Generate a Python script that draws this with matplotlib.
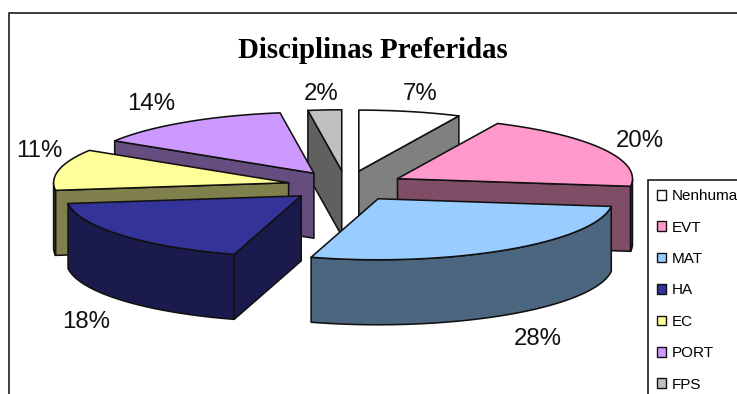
"""Disciplinas Preferidas: exploded 3D style pie drawn on a pixel canvas."""

import numpy as np
import matplotlib
matplotlib.use("Agg")
import matplotlib.pyplot as plt
from matplotlib.patches import Patch, Polygon, Rectangle

# Data
categories = ["Nenhuma", "EVT", "MAT", "HA", "EC", "PORT", "FPS"]
shares = [7.0, 20.0, 27.6, 18.4, 10.9, 13.8, 2.3]
top_colors = ["#FFFFFF", "#FF99CC", "#99CCFF", "#333399", "#FFFF99", "#CC99FF", "#C0C0C0"]
side_colors = ["#808080", "#804D66", "#4D6680", "#1A1A4D", "#80804D", "#664D80", "#606060"]

# Pie geometry, in pixels
CX, CY = 346, 186
RX, RY = 235, 61
DEPTH = 65
EXPLODE = 0.25

# label offsets from the outer edge of each slice
label_dx = [10, 36, 31, -36, -20, -34, -4]
label_dy = [-18, -8, 24, 22, -19, -18, -16]

LINE = "#111111"
LW = 1.15


def rim(apex, angles):
  """Points on the slice's outer edge, angles clockwise from 12 o'clock."""
  return np.column_stack([apex[0] + RX * np.sin(angles), apex[1] - RY * np.cos(angles)])


def extrude(ax, points, color, zorder):
  """Draw the wall hanging below a run of top-face points."""
  lower = points[::-1] + [0, DEPTH]
  ax.add_patch(Polygon(np.vstack([points, lower]), closed=True, facecolor=color,
                       edgecolor=LINE, linewidth=LW, joinstyle="round", zorder=zorder))


def draw_slice(ax, start, end, top, side, zorder):
  """Draw one exploded slice: visible walls first, then its top face."""
  mid = (start + end) / 2
  apex = np.array([CX + EXPLODE * RX * np.sin(mid), CY - EXPLODE * RY * np.cos(mid)])
  arc = np.linspace(start, end, 80)
  edge = rim(apex, arc)

  # A radial wall shows only when it faces the viewer
  if np.sin(start) < 0:
    extrude(ax, np.vstack([apex, edge[0]]), side, zorder)
  if np.sin(end) > 0:
    extrude(ax, np.vstack([apex, edge[-1]]), side, zorder)

  # Outer wall: only the front half of the rim
  front = arc[np.cos(arc) < 0]
  if len(front) > 1:
    extrude(ax, rim(apex, front), side, zorder)

  ax.add_patch(Polygon(np.vstack([apex, edge]), closed=True, facecolor=top,
                       edgecolor=LINE, linewidth=LW, joinstyle="round", zorder=zorder))
  return apex


fig = plt.figure(figsize=(7.37, 3.94), dpi=100)
ax = fig.add_axes([0, 0, 1, 1])
ax.set_xlim(0, 737)
ax.set_ylim(394, 0)
ax.axis("off")

# Chart frame runs off the right and bottom of the picture
ax.add_patch(Rectangle((9, 13), 760, 420, facecolor="white", edgecolor=LINE, linewidth=LW, zorder=0))

ax.text(373, 50, "Disciplinas Preferidas", family="Liberation Serif", fontweight="bold",
        fontsize=20.8, ha="center", va="center", color="black", zorder=30)

edges = np.radians(np.cumsum([0] + shares) * 3.6)
mids = (edges[:-1] + edges[1:]) / 2

# Back slices first so the front ones overlap them
order = sorted(range(len(shares)), key=lambda i: -np.cos(mids[i]))
for rank, i in enumerate(order):
  apex = draw_slice(ax, edges[i], edges[i + 1], top_colors[i], side_colors[i], 2 + rank)
  outer = rim(apex, mids[i:i + 1])[0]
  if np.cos(mids[i]) < 0:
    outer = outer + [0, DEPTH]
  ax.text(outer[0] + label_dx[i], outer[1] + label_dy[i], f"{shares[i]:.0f}%", family="Liberation Sans",
          fontsize=17.3, ha="center", va="center", color="#111111", zorder=30)

handles = [Patch(facecolor=c, edgecolor=LINE, linewidth=1.0) for c in top_colors]
legend = ax.legend(handles, categories, loc="upper left", bbox_to_anchor=(648, 180),
                   bbox_transform=ax.transData, prop={"family": "Liberation Sans", "size": 11},
                   frameon=True, fancybox=False, framealpha=1, edgecolor=LINE,
                   handlelength=0.6, handleheight=0.6, handletextpad=0.35,
                   labelspacing=1.14, borderpad=0.6, borderaxespad=0)
legend.set_zorder(40)
legend.get_frame().set_linewidth(LW)

fig.savefig("out.png", dpi=100)
